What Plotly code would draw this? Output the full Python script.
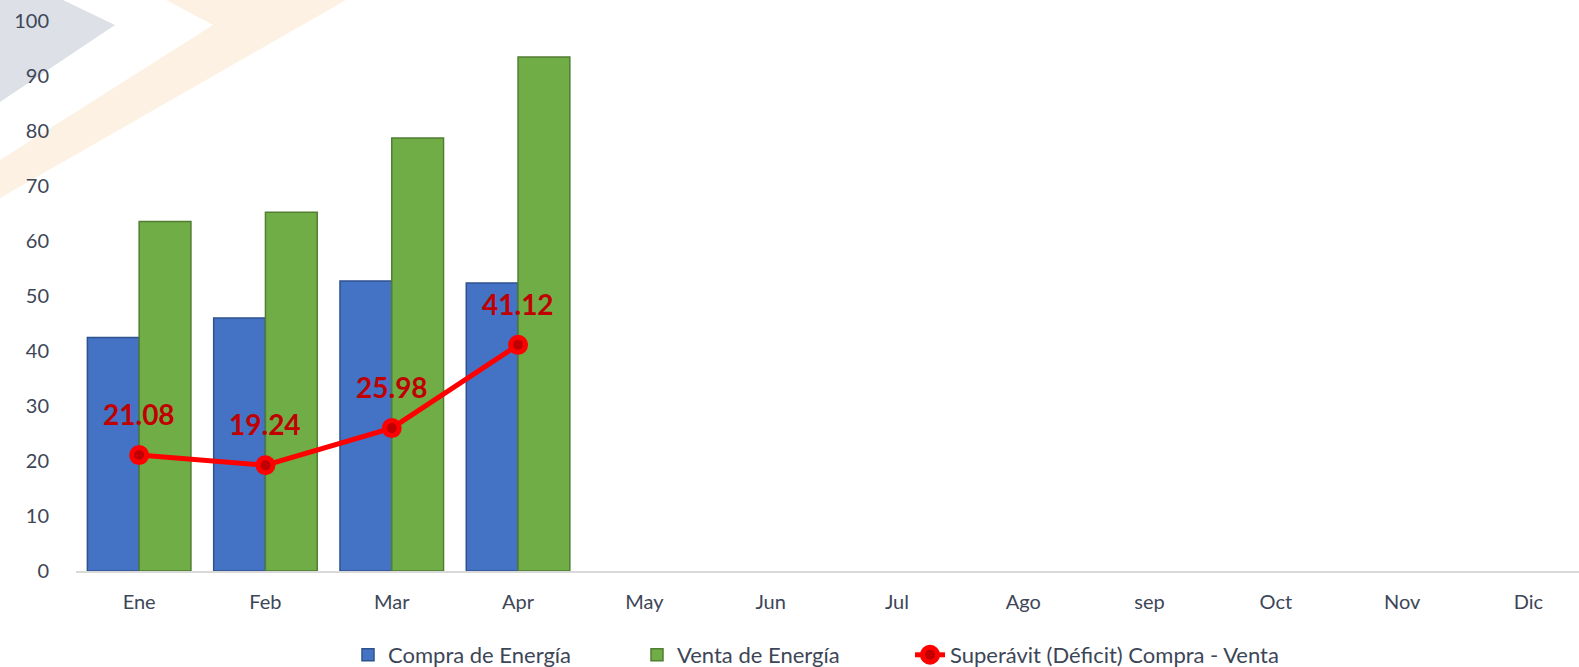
import plotly.graph_objects as go

meses = ["Ene", "Feb", "Mar", "Apr", "May", "Jun", "Jul", "Ago", "sep", "Oct", "Nov", "Dic"]
compra = [42.45, 46.0, 52.75, 52.35]
venta = [63.53, 65.24, 78.73, 93.47]
superavit = [21.08, 19.24, 25.98, 41.12]

W, H = 1579, 667
L, R, T, B = 76, 0, 21, 96
pw, ph = W - L - R, H - T - B

def px(x, y):
    return (x - L) / pw, (H - B - y) / ph

def path(points):
    parts = []
    for i, (x, y) in enumerate(points):
        a, b = px(x, y)
        parts.append(("M" if i == 0 else "L") + f"{a:.5f},{b:.5f}")
    return " ".join(parts) + " Z"

fig = go.Figure()

fig.add_trace(go.Bar(
    x=meses[:len(compra)], y=compra, name="Compra de Energía", legend="legend",
    marker=dict(color="#4472c4", line=dict(color="#2f528f", width=1.5)),
))
fig.add_trace(go.Bar(
    x=meses[:len(venta)], y=venta, name="Venta de Energía", legend="legend2",
    marker=dict(color="#70ad47", line=dict(color="#507e32", width=1.5)),
))
fig.add_trace(go.Scatter(
    x=meses[:len(superavit)], y=superavit, name="Superávit (Déficit) Compra - Venta",
    legend="legend3",
    mode="lines+markers",
    line=dict(color="#ff0000", width=5),
    marker=dict(size=15, color="#c00000", line=dict(color="#ff0000", width=5)),
))

for m, v in zip(meses, superavit):
    fig.add_annotation(x=m, y=v, text=f"{v:.2f}", showarrow=False, yshift=41,
                       font=dict(family="Lato", size=28, color="#c00000", weight="bold"))

shapes = [
    dict(type="path", xref="paper", yref="paper", layer="below",
         path=path([(0, 0), (63, 0), (115, 25), (0, 102)]),
         fillcolor="#dde0e7", line=dict(width=0)),
    dict(type="path", xref="paper", yref="paper", layer="below",
         path=path([(166, 0), (346, 0), (0, 198), (0, 160), (213, 25)]),
         fillcolor="#fdf1e3", line=dict(width=0)),
]

leg_common = dict(orientation="h", yanchor="middle", y=(H - B - 655) / ph, xanchor="left",
                  font=dict(size=22, color="#3d4657"), bgcolor="rgba(0,0,0,0)")

fig.update_layout(
    width=W, height=H,
    margin=dict(l=L, r=R, t=T, b=B, pad=0, autoexpand=False),
    paper_bgcolor="white", plot_bgcolor="rgba(0,0,0,0)",
    font=dict(family="Lato", size=18, color="#3d4657"),
    barmode="group", bargap=0.18, bargroupgap=0,
    shapes=shapes,
    showlegend=True,
    legend=dict(x=px(348, 0)[0], **leg_common),
    legend2=dict(x=px(637, 0)[0], **leg_common),
    legend3=dict(x=px(910, 0)[0], **leg_common),
    xaxis=dict(categoryorder="array", categoryarray=meses, range=[-0.5, 11.4],
               showline=True, linecolor="#d9d9d9", linewidth=2, showgrid=False,
               ticks="outside", ticklen=12, tickcolor="rgba(0,0,0,0)",
               tickfont=dict(size=20), fixedrange=True),
    yaxis=dict(range=[0, 100], dtick=10, showgrid=False, zeroline=False, showline=False,
               ticks="outside", ticklen=22, tickcolor="rgba(0,0,0,0)",
               tickfont=dict(size=20), fixedrange=True),
)

fig.write_html("out.html", config={"displayModeBar": False},
               post_script="document.body.style.margin='0';")
